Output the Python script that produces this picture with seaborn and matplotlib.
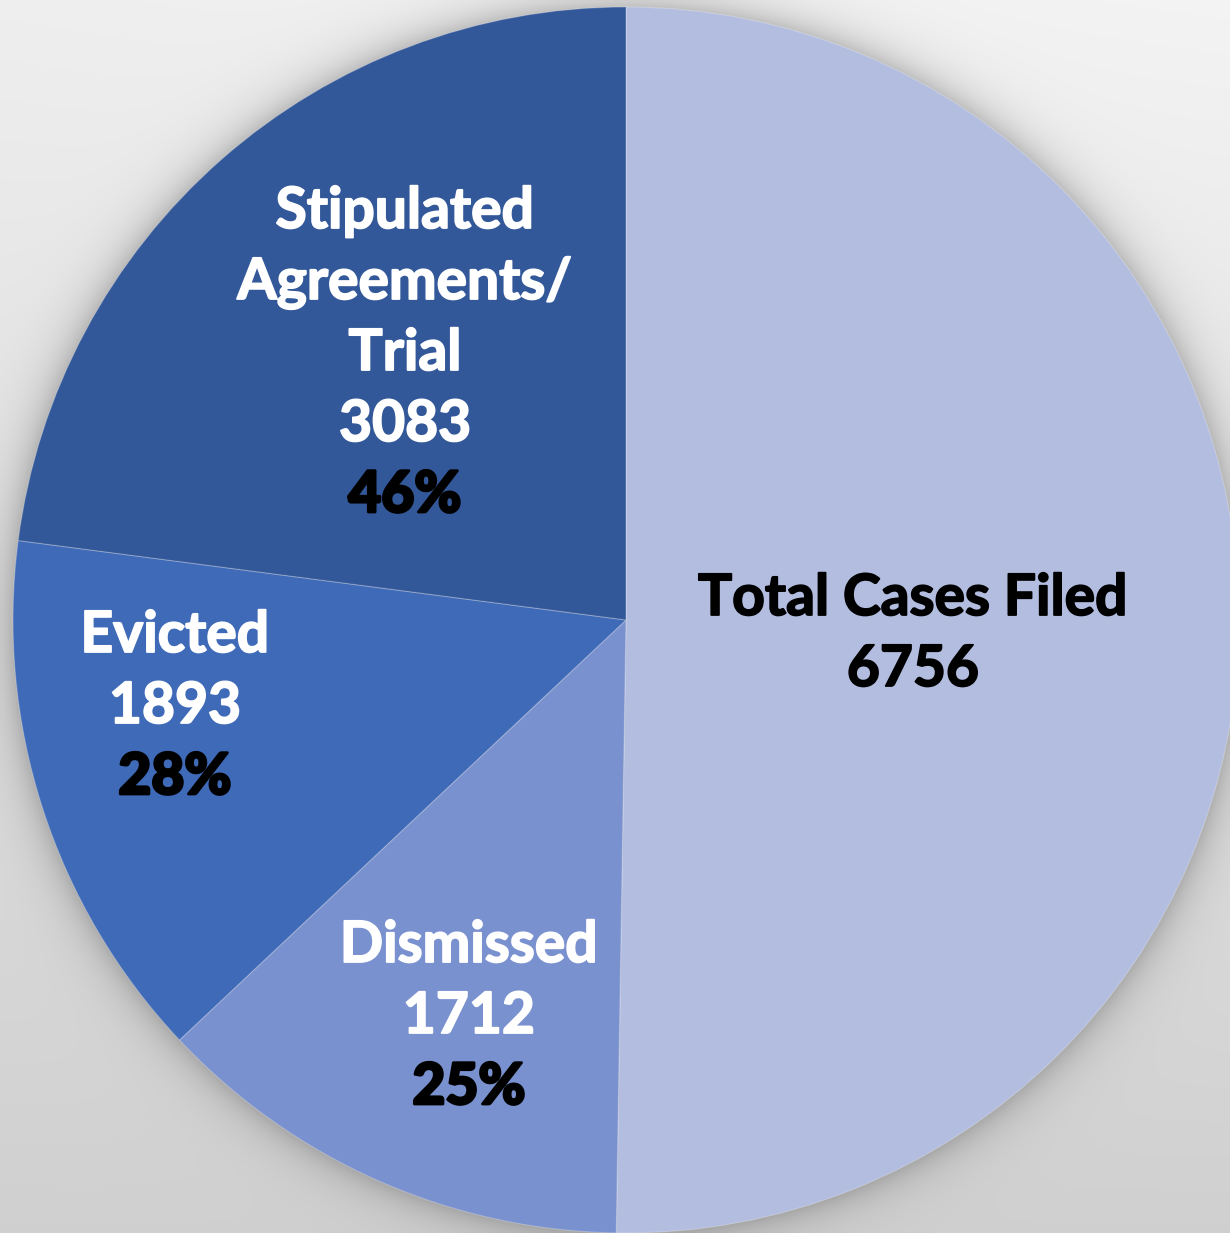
import numpy as np
import matplotlib
matplotlib.use("Agg")
import matplotlib.pyplot as plt
import matplotlib.patheffects as pe
import seaborn as sns

# ---- data ----
categories = ["Total Cases Filed", "Dismissed", "Evicted", "Stipulated\nAgreements/\nTrial"]
counts = [6756, 1712, 1893, 3083]
show_pct = [False, True, True, True]
colors = ["#b2bde0", "#7a91cf", "#3f6ab8", "#335899"]
name_colors = ["black", "white", "white", "white"]

sns.set_theme(style="white")
plt.rcParams['font.family'] = ['Lato', 'DejaVu Sans']

W, H, DPI = 1230, 1233, 100
CX, CY, R = 626.0, 620.0, 613.0
fig = plt.figure(figsize=(W / DPI, H / DPI), dpi=DPI)
ax = fig.add_axes([0, 0, 1, 1])

x0, x1 = -CX / R, (W - CX) / R
y0, y1 = -(H - CY) / R, CY / R

# background gradient with soft shadow around the pie
ny, nx = 400, 400
xs = np.linspace(x0, x1, nx)
ys = np.linspace(y1, y0, ny)
X, Y = np.meshgrid(xs, ys)
fy = (y1 - Y) / (y1 - y0)
fx = (X - x0) / (x1 - x0)
v = 0.935 - 0.12 * fy + 0.02 * fx * (1 - fy)
d = np.sqrt(X ** 2 + Y ** 2)
shadow = np.where(d > 1, 0.22 * np.exp(-(d - 1) / 0.03), 0.22)
v = v * (1 - shadow)
img = np.dstack([v, v, v])
ax.imshow(img, extent=[x0, x1, y0, y1], origin="upper", aspect="auto", zorder=0,
          interpolation="bilinear")

wedges, _ = ax.pie(counts, colors=colors, startangle=90, counterclock=False,
                   radius=1, center=(0, 0),
                   wedgeprops=dict(linewidth=0.8, edgecolor=(1, 1, 1, 0.25)))
for w in wedges:
    w.set_zorder(2)

ax.set_xlim(x0, x1)
ax.set_ylim(y0, y1)
ax.set_aspect("auto")
ax.axis("off")

# label block centres (pixels in the reference)
label_centers = [(913, 629.5), (469, 1012), (175, 702), (405, 349)]
line_px = 71.0
fs = 41

total = counts[0]
for i, (cat, n) in enumerate(zip(categories, counts)):
    lines = [(s, name_colors[i], "bold", 1.3) for s in cat.split("\n")]
    lines.append((str(n), name_colors[i], "bold", 1.3))
    if show_pct[i]:
        lines.append((f"{round(100 * n / total):.0f}%", "black", "black", 2.0))
    nl = len(lines)
    cx, cy = label_centers[i]
    for k, (s, c, wgt, sw) in enumerate(lines):
        py = cy + (k - (nl - 1) / 2) * line_px + 21
        effects = [pe.Stroke(linewidth=sw, foreground=c), pe.Normal()]
        ax.text((cx - CX) / R, (CY - py) / R, s, color=c, fontsize=fs,
                fontweight=wgt, ha="center", va="baseline", zorder=5,
                path_effects=effects)

fig.savefig("out.png", dpi=DPI)
